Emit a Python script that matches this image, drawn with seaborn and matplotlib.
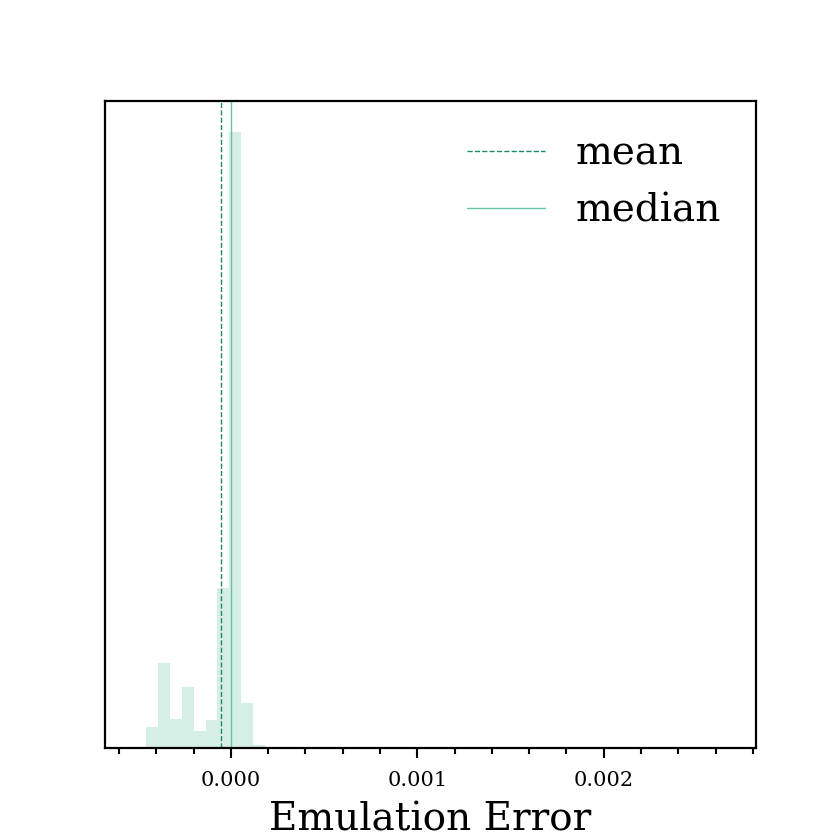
import numpy as np
import pandas as pd
import matplotlib
matplotlib.use("Agg")
import matplotlib.pyplot as plt
import seaborn as sns

# histogram of emulation errors: 50 bins, counts
bin_lo, bin_hi, n_bins = -0.000516, 0.002658, 50
counts = [1, 21, 84, 29, 61, 17, 28, 159, 615, 45, 3, 1] + [0] * 38
err_mean = -0.0000538
err_median = 0.0000005

edges = np.linspace(bin_lo, bin_hi, n_bins + 1)
centers = 0.5 * (edges[:-1] + edges[1:])
df = pd.DataFrame({"error": centers, "count": counts})

sns.set_style("ticks", {"axes.edgecolor": "black", "text.color": "black",
                        "xtick.color": "black", "axes.labelcolor": "black"})
plt.rcParams["font.family"] = ["DejaVu Serif"]
plt.rcParams["mathtext.fontset"] = "dejavuserif"

fig, ax = plt.subplots(figsize=(8.4, 8.4), dpi=100)
sns.histplot(data=df, x="error", weights="count", bins=n_bins,
             binrange=(bin_lo, bin_hi), ax=ax,
             color="#2fb383", alpha=0.2, edgecolor="none", linewidth=0)

ax.axvline(err_mean, color="#1b8a66", ls="--", lw=1, label="mean")
ax.axvline(err_median, color="#66c2a5", ls="-", lw=1, label="median")

ax.set_yticks([])
ax.set_ylabel("")
ax.set_xlabel("Emulation Error", fontsize=28, labelpad=8)
ax.xaxis.set_major_locator(matplotlib.ticker.MultipleLocator(0.001))
ax.xaxis.set_minor_locator(matplotlib.ticker.MultipleLocator(0.0002))
ax.tick_params(axis="x", which="major", labelsize=15, length=7, width=1.5,
               pad=10)
ax.tick_params(axis="x", which="minor", length=4, width=1.5)
for s in ax.spines.values():
    s.set_visible(True)
    s.set_linewidth(1.6)

ax.legend(loc="upper right", fontsize=28, frameon=False)
plt.subplots_adjust(left=0.125, right=0.9, bottom=0.11, top=0.88)
plt.savefig("out.png", dpi=100)
